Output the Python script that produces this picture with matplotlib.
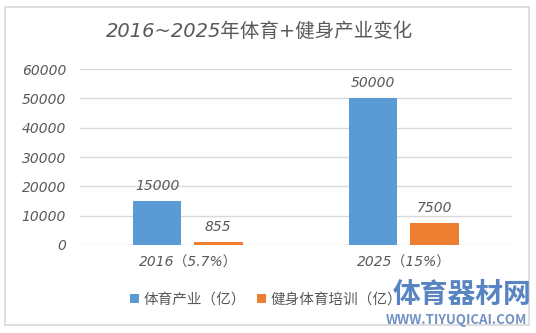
import matplotlib
matplotlib.use("Agg")
import numpy as np
import matplotlib.pyplot as plt
from matplotlib.patches import Rectangle

plt.rcParams['font.family'] = ['Noto Sans CJK SC', 'DejaVu Sans']
# digits in italic latin face, CJK falls through to Noto
num_font = ['DejaVu Sans', 'Noto Sans CJK SC']

# industry size, in 亿 yuan
categories = ['2016（5.7%）', '2025（15%）']
sports = [15000, 50000]
fitness = [855, 7500]
series_names = ['体育产业（亿）', '健身体育培训（亿）']
yticks = [0, 10000, 20000, 30000, 40000, 50000, 60000]

blue = '#5B9BD5'
orange = '#ED7D31'
grey = '#595959'

fig = plt.figure(figsize=(5.36, 3.33), dpi=100)
fig.patch.set_facecolor('white')

# chart frame
fig.patches.append(Rectangle((5 / 536, 1 - 325 / 333), 524 / 536, 318 / 333,
                             transform=fig.transFigure, fill=False,
                             edgecolor='#d9d9d9', linewidth=1.2))

ax = fig.add_axes([80 / 536, 88 / 333, 432 / 536, 176 / 333])

x = np.arange(len(categories))
w = 0.225
b1 = ax.bar(x - 0.143, sports, w, color=blue, label=series_names[0])
b2 = ax.bar(x + 0.140, fitness, w, color=orange, label=series_names[1])

for bars, vals in ((b1, sports), (b2, fitness)):
    for r, v in zip(bars, vals):
        ax.annotate(str(v), (r.get_x() + r.get_width() / 2, v),
                    xytext=(0, 6), textcoords='offset points',
                    ha='center', va='bottom', fontsize=10, color=grey,
                    style='italic', family=num_font)

ax.set_xlim(-0.5, 1.5)
ax.set_ylim(0, 60000)
ax.set_yticks(yticks)
ax.set_yticklabels([str(t) for t in yticks], fontsize=10, color=grey,
                   style='italic', family=num_font)
ax.set_xticks(x)
ax.set_xticklabels(categories, fontsize=10, color=grey, style='italic',
                   family=num_font)
ax.tick_params(length=0, pad=8)
ax.tick_params(axis='y', pad=10)
ax.grid(axis='y', color='#d9d9d9', linewidth=1)
ax.set_axisbelow(True)
for s in ax.spines.values():
    s.set_visible(False)

fig.text(260 / 536, 1 - 31 / 333, '2016~2025年体育+健身产业变化',
         ha='center', va='center', fontsize=14, color=grey, style='italic',
         family=num_font)

fig.legend(handles=[b1, b2], labels=series_names, loc='center',
           bbox_to_anchor=(266 / 536, 1 - 300 / 333), ncol=2, frameon=False,
           fontsize=10.5, handlelength=0.6, handleheight=0.6,
           handletextpad=0.3, columnspacing=0.8, labelcolor=grey)

# site watermark
fig.text(462 / 536, 1 - 295 / 333, '体育器材网', ha='center', va='center',
         fontsize=20, color='#3b6fb6', weight='bold', alpha=0.85)
fig.text(456 / 536, 1 - 320 / 333, 'WWW.TIYUQICAI.COM', ha='center',
         va='center', fontsize=9.5, color='#5a7fb8', weight='bold', alpha=0.85)

fig.savefig('out.png', dpi=100)
